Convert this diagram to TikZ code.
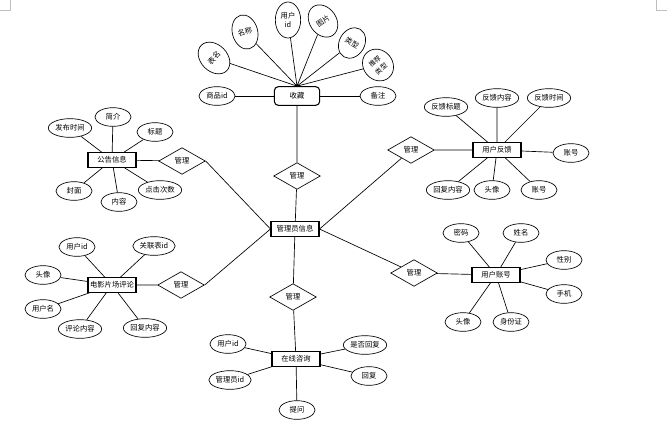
\documentclass[tikz,border=0pt]{standalone}
\usepackage{fontspec}
\setmainfont{Noto Sans CJK SC}
\usetikzlibrary{shapes.geometric}
\definecolor{cropmark}{RGB}{190,190,190}
\tikzset{
  entity/.style={draw, line width=0.8pt, minimum width=36pt, minimum height=11pt, inner sep=1pt},
  attr/.style={draw, ellipse, line width=0.5pt, minimum width=27pt, minimum height=14pt, inner sep=0.5pt},
  rel/.style={draw, diamond, aspect=1.8, line width=0.5pt, minimum width=35pt, minimum height=20pt, inner sep=0pt},
  link/.style={line width=0.5pt}
}

\begin{document}
\begin{tikzpicture}[x=0.75pt, y=-0.75pt, font=\fontsize{5.5pt}{6.5pt}\selectfont]
            \useasboundingbox (0,0) rectangle (667,426);
            \draw[cropmark] (0,10) -- (10,10) -- (10,0);
            \draw[cropmark] (667,10) -- (656,10) -- (656,0);

            % centre
            \node[entity] (admin) at (295,229) {管理员信息};
            \node[rel] (r1) at (297,176) {管理};
            \node[rel] (r2) at (182,161) {管理};
            \node[rel] (r3) at (411,150) {管理};
            \node[rel] (r4) at (181,285) {管理};
            \node[rel] (r5) at (414,273) {管理};
            \node[rel] (r6) at (293,297) {管理};

            % 收藏
            \node[entity, rounded corners=3pt, minimum width=34pt, minimum height=14pt] (shoucang) at (297,96) {收藏};
            \node[attr] (sc1) at (217,96) {商品id};
            \node[attr] (sc2) at (378,96) {备注};
            \node[attr, minimum width=20pt, minimum height=27pt, rotate=45] (sc3) at (214,58) {表名};
            \node[attr, minimum width=19pt, minimum height=26pt, rotate=15] (sc4) at (245,32) {名称};
            \node[attr, minimum width=19pt, minimum height=27pt, align=center] (sc5) at (288,20) {用户\\id};
            \node[attr, minimum width=20pt, minimum height=26pt, rotate=35] (sc6) at (323,21) {图片};
            \node[attr, minimum width=19pt, minimum height=24pt, rotate=-30] (sc7) at (352,43) {类型};
            \node[attr, minimum width=22pt, minimum height=25pt, rotate=40, align=center,
                  font=\fontsize{5pt}{7.5pt}\selectfont] (sc8) at (378,65) {推荐\\类型};

            % 公告信息
            \node[entity] (gonggao) at (112,160) {公告信息};
            \node[attr] (gg1) at (70,128) {发布时间};
            \node[attr] (gg2) at (113,117) {简介};
            \node[attr] (gg3) at (155,132) {标题};
            \node[attr] (gg4) at (74,191) {封面};
            \node[attr] (gg5) at (119,202) {内容};
            \node[attr] (gg6) at (160,190) {点击次数};

            % 用户反馈
            \node[entity] (fankui) at (497,150) {用户反馈};
            \node[attr] (fk1) at (446,107) {反馈标题};
            \node[attr] (fk2) at (497,98) {反馈内容};
            \node[attr] (fk3) at (549,98) {反馈时间};
            \node[attr] (fk4) at (571,153) {账号};
            \node[attr] (fk5) at (448,190) {回复内容};
            \node[attr] (fk6) at (492,190) {头像};
            \node[attr] (fk7) at (539,190) {账号};

            % 电影片场评论
            \node[entity] (pinglun) at (112,285) {电影片场评论};
            \node[attr] (pl1) at (77,247) {用户id};
            \node[attr] (pl2) at (154,246) {关联表id};
            \node[attr] (pl3) at (43,275) {头像};
            \node[attr] (pl4) at (43,309) {用户名};
            \node[attr] (pl5) at (80,329) {评论内容};
            \node[attr] (pl6) at (145,328) {回复内容};

            % 用户账号
            \node[entity] (zhanghao) at (496,275) {用户账号};
            \node[attr] (zh1) at (461,233) {密码};
            \node[attr] (zh2) at (521,233) {姓名};
            \node[attr] (zh3) at (564,260) {性别};
            \node[attr] (zh4) at (564,294) {手机};
            \node[attr] (zh5) at (463,322) {头像};
            \node[attr] (zh6) at (511,322) {身份证};

            % 在线咨询
            \node[entity] (zixun) at (296,359) {在线咨询};
            \node[attr] (zx1) at (228,344) {用户id};
            \node[attr] (zx2) at (230,380) {管理员id};
            \node[attr] (zx3) at (365,345) {是否回复};
            \node[attr] (zx4) at (369,376) {回复};
            \node[attr] (zx5) at (297,410) {提问};

            % relations
            \draw[link] (admin) -- (r1) -- (shoucang);
            \draw[link] (admin.west) -- (r2.east) (r2) -- (gonggao);
            \draw[link] (admin.east) -- (r3) (r3) -- (fankui);
            \draw[link] (admin.west) -- (r4.east) (r4) -- (pinglun);
            \draw[link] (admin.east) -- (r5) -- (zhanghao);
            \draw[link] (admin) -- (r6) -- (zixun);

            % attributes
            \draw[link] (shoucang) -- (sc1) (shoucang) -- (sc2);
            \draw[link] (shoucang.north) -- (sc3) (shoucang.north) -- (sc4) (shoucang.north) -- (sc5)
                        (shoucang.north) -- (sc6) (shoucang.north) -- (sc7) (shoucang.north) -- (sc8);
            \draw[link] (gonggao) -- (gg1) (gonggao) -- (gg2) (gonggao) -- (gg3)
                        (gonggao) -- (gg4) (gonggao) -- (gg5) (gonggao) -- (gg6);
            \draw[link] (fankui) -- (fk1) (fankui) -- (fk2) (fankui) -- (fk3) (fankui) -- (fk4)
                        (fankui) -- (fk5) (fankui) -- (fk6) (fankui) -- (fk7);
            \draw[link] (pinglun) -- (pl1) (pinglun) -- (pl2) (pinglun) -- (pl3)
                        (pinglun) -- (pl4) (pinglun) -- (pl5) (pinglun) -- (pl6);
            \draw[link] (zhanghao) -- (zh1) (zhanghao) -- (zh2) (zhanghao) -- (zh3)
                        (zhanghao) -- (zh4) (zhanghao) -- (zh5) (zhanghao) -- (zh6);
            \draw[link] (zixun) -- (zx1) (zixun) -- (zx2) (zixun) -- (zx3)
                        (zixun) -- (zx4) (zixun) -- (zx5);
        \end{tikzpicture}
\end{document}
